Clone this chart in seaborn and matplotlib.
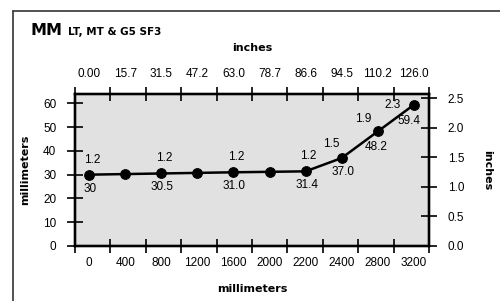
import numpy as np
import pandas as pd
import seaborn as sns
import matplotlib.pyplot as plt
from matplotlib.lines import Line2D

# --------- Data ---------
mm_labels = ["0", "400", "800", "1200", "1600", "2000", "2200", "2400", "2800", "3200"]
inch_labels = ["0.00", "15.7", "31.5", "47.2", "63.0", "78.7", "86.6", "94.5", "110.2", "126.0"]
deflection_mm = [30.0, 30.25, 30.5, 30.75, 31.0, 31.2, 31.4, 37.0, 48.2, 59.4]
mm_text = ["30", "", "30.5", "", "31.0", "", "31.4", "37.0", "48.2", "59.4"]
inch_text = ["1.2", "", "1.2", "", "1.2", "", "1.2", "1.5", "1.9", "2.3"]

df = pd.DataFrame({"pos": np.arange(len(mm_labels)), "mm": deflection_mm})

# --------- Style ---------
sns.set_style("ticks")
plt.rcParams["font.family"] = ["Liberation Sans Narrow", "Liberation Sans", "DejaVu Sans"]
plt.rcParams.update({"text.color": "black", "axes.labelcolor": "black",
                     "xtick.color": "black", "ytick.color": "black"})
bold_font = ["DejaVu Sans"]
FS = 8.5

fig = plt.figure(figsize=(5.0, 3.01), dpi=100)
ax = fig.add_axes([0.15, 0.183, 0.708, 0.505])
ax.set_facecolor("#e1e1e1")

sns.lineplot(data=df, x="pos", y="mm", ax=ax, color="black", linewidth=1.8,
             marker="o", markersize=7, markeredgecolor="black")

xlim = (-0.39, 9.42)
ax.set_xlim(*xlim)
ax.set_ylim(0, 64)

# bottom axis: labels at points, tick marks between
ax.set_xticks(df["pos"])
ax.set_xticklabels(mm_labels, fontsize=FS)
ax.set_xticks(np.linspace(xlim[0], xlim[1], 11), minor=True)
ax.tick_params(axis="x", which="major", length=0, pad=8)
ax.tick_params(axis="x", which="minor", direction="inout", length=10, width=1.2)
ax.set_yticks(range(0, 61, 10))
ax.tick_params(axis="y", direction="inout", length=11, width=1.2, pad=8, labelsize=FS)
ax.set_xlabel("millimeters", fontsize=8, fontweight="bold", family=bold_font, labelpad=11)
ax.set_ylabel("millimeters", fontsize=8, fontweight="bold", family=bold_font, labelpad=9)

# top axis (inches)
top = ax.twiny()
top.set_xlim(*xlim)
top.set_xticks(df["pos"])
top.set_xticklabels(inch_labels, fontsize=FS)
top.set_xticks(np.linspace(xlim[0], xlim[1], 11), minor=True)
top.tick_params(axis="x", which="major", length=0, pad=10)
top.tick_params(axis="x", which="minor", direction="inout", length=10, width=1.2)
top.set_xlabel("inches", fontsize=8, fontweight="bold", family=bold_font, labelpad=12)

# right axis (inches)
right = ax.twinx()
right.set_ylim(0, 2.57)
right.set_yticks(np.arange(0, 2.51, 0.5))
right.set_yticklabels([f"{v:.1f}" for v in np.arange(0, 2.51, 0.5)], fontsize=FS)
right.tick_params(axis="y", direction="inout", length=11, width=1.2, pad=8)
right.set_ylabel("inches", fontsize=8, fontweight="bold", family=bold_font,
                 rotation=-90, labelpad=20)

for a in (ax, top, right):
    for s in a.spines.values():
        s.set_visible(True)
        s.set_linewidth(1.6)
        s.set_color("black")

# point labels
above_off = {7: (-10, 14), 8: (-15, 12), 9: (-21, 0)}
below_off = {8: (-2, -16), 9: (-5, -16)}
for i, (v, t_mm, t_in) in enumerate(zip(deflection_mm, mm_text, inch_text)):
    if t_in:
        dx, dy = above_off.get(i, (3, 15))
        ax.annotate(t_in, (i, v), xytext=(dx, dy), textcoords="offset pixels",
                    ha="center", va="center", fontsize=FS)
    if t_mm:
        dx, dy = below_off.get(i, (1, -14))
        ax.annotate(t_mm, (i, v), xytext=(dx, dy), textcoords="offset pixels",
                    ha="center", va="center", fontsize=FS)

# title and frame
fig.text(0.06, 0.884, "MM", fontsize=11.5, fontweight="bold", family=bold_font, va="baseline")
fig.text(0.136, 0.884, "LT, MT & G5 SF3", fontsize=7.5, fontweight="bold",
         family=bold_font, va="baseline")
fig.add_artist(Line2D([0.026, 1.0], [0.965, 0.965], color="#333333", linewidth=1.2))
fig.add_artist(Line2D([0.026, 0.026], [0.0, 0.965], color="#333333", linewidth=1.2))

fig.savefig("out.png", dpi=100)
